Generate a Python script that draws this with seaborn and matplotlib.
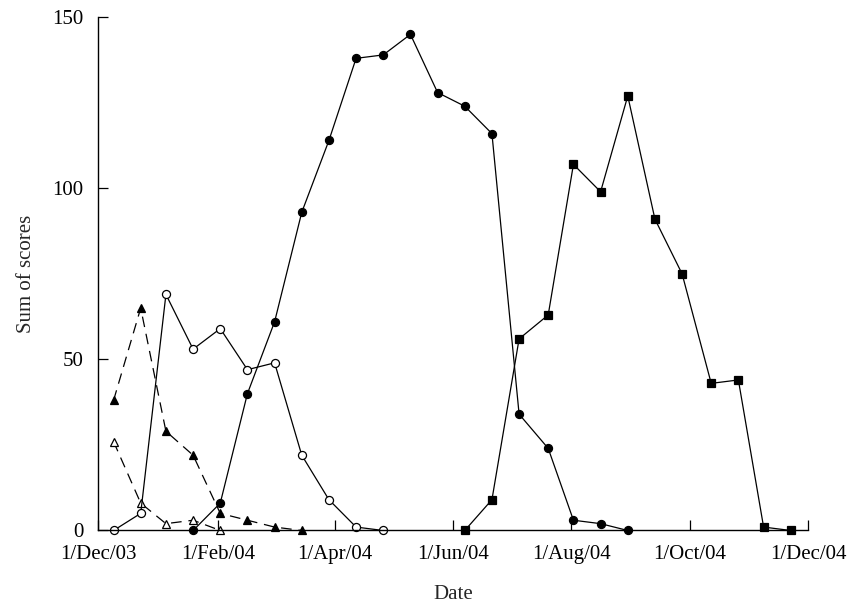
import pandas as pd
import seaborn as sns
import matplotlib.pyplot as plt
import matplotlib.dates as mdates

# sampling dates (roughly fortnightly)
dates = pd.to_datetime([
    "2003-12-09", "2003-12-23", "2004-01-05", "2004-01-19", "2004-02-02",
    "2004-02-16", "2004-03-01", "2004-03-15", "2004-03-29", "2004-04-12",
    "2004-04-26", "2004-05-10", "2004-05-24", "2004-06-07", "2004-06-21",
    "2004-07-05", "2004-07-20", "2004-08-02", "2004-08-16", "2004-08-30",
    "2004-09-13", "2004-09-27", "2004-10-12", "2004-10-26", "2004-11-08",
    "2004-11-22",
])

# series values (each starts at its own sampling date)
filled_tri = [38, 65, 29, 22, 5, 3, 1, 0]          # from dates[0]
open_tri = [26, 8, 2, 3, 0]                       # from dates[0]
open_circ = [0, 5, 69, 53, 59, 47, 49, 22, 9, 1, 0]  # from dates[0]
filled_circ = [0, 8, 40, 61, 93, 114, 138, 139, 145, 128,
               124, 116, 34, 24, 3, 2, 0]          # from dates[3]
filled_sq = [0, 9, 56, 63, 107, 99, 127, 91, 75, 43, 44, 1, 0]  # from dates[13]

sns.set_style("ticks")
plt.rcParams['font.family'] = ['Liberation Serif', 'DejaVu Serif']

fig = plt.figure(figsize=(8.56, 6.04), dpi=100)
ax = fig.add_axes([0.1145, 0.1217, 0.8297, 0.8497])

common = dict(color='black', linewidth=0.9, markersize=5.8, clip_on=False,
              markeredgecolor='black', markeredgewidth=0.9)
dash = (0, (8.5, 5.5))

sns.lineplot(x=dates[:len(filled_tri)], y=filled_tri, ax=ax, marker='^',
             linestyle=dash, markerfacecolor='black', **common)
sns.lineplot(x=dates[:len(open_tri)], y=open_tri, ax=ax, marker='^',
             linestyle=dash, markerfacecolor='white', **common)
sns.lineplot(x=dates[:len(open_circ)], y=open_circ, ax=ax, marker='o',
             markerfacecolor='white', **common)
sns.lineplot(x=dates[3:3 + len(filled_circ)], y=filled_circ, ax=ax, marker='o',
             markerfacecolor='black', **common)
sns.lineplot(x=dates[13:13 + len(filled_sq)], y=filled_sq, ax=ax, marker='s',
             markerfacecolor='black', **common)

ax.set_xlim(pd.Timestamp("2003-12-01"), pd.Timestamp("2004-12-01"))
ax.set_ylim(0, 150)
ax.set_yticks([0, 50, 100, 150])
ax.xaxis.set_major_locator(mdates.MonthLocator(bymonth=[12, 2, 4, 6, 8, 10]))
ax.xaxis.set_major_formatter(mdates.DateFormatter('1/%b/%y'))

sns.despine(ax=ax)
for s in ['left', 'bottom']:
    ax.spines[s].set_linewidth(1.0)
    ax.spines[s].set_color('black')
ax.tick_params(direction='in', length=7, width=0.9, pad=10.5,
               labelsize=15, colors='black')

ax.set_xlabel('Date', fontsize=15, labelpad=15)
ax.set_ylabel('Sum of scores', fontsize=15, labelpad=12)

fig.savefig('out.png', dpi=100)
